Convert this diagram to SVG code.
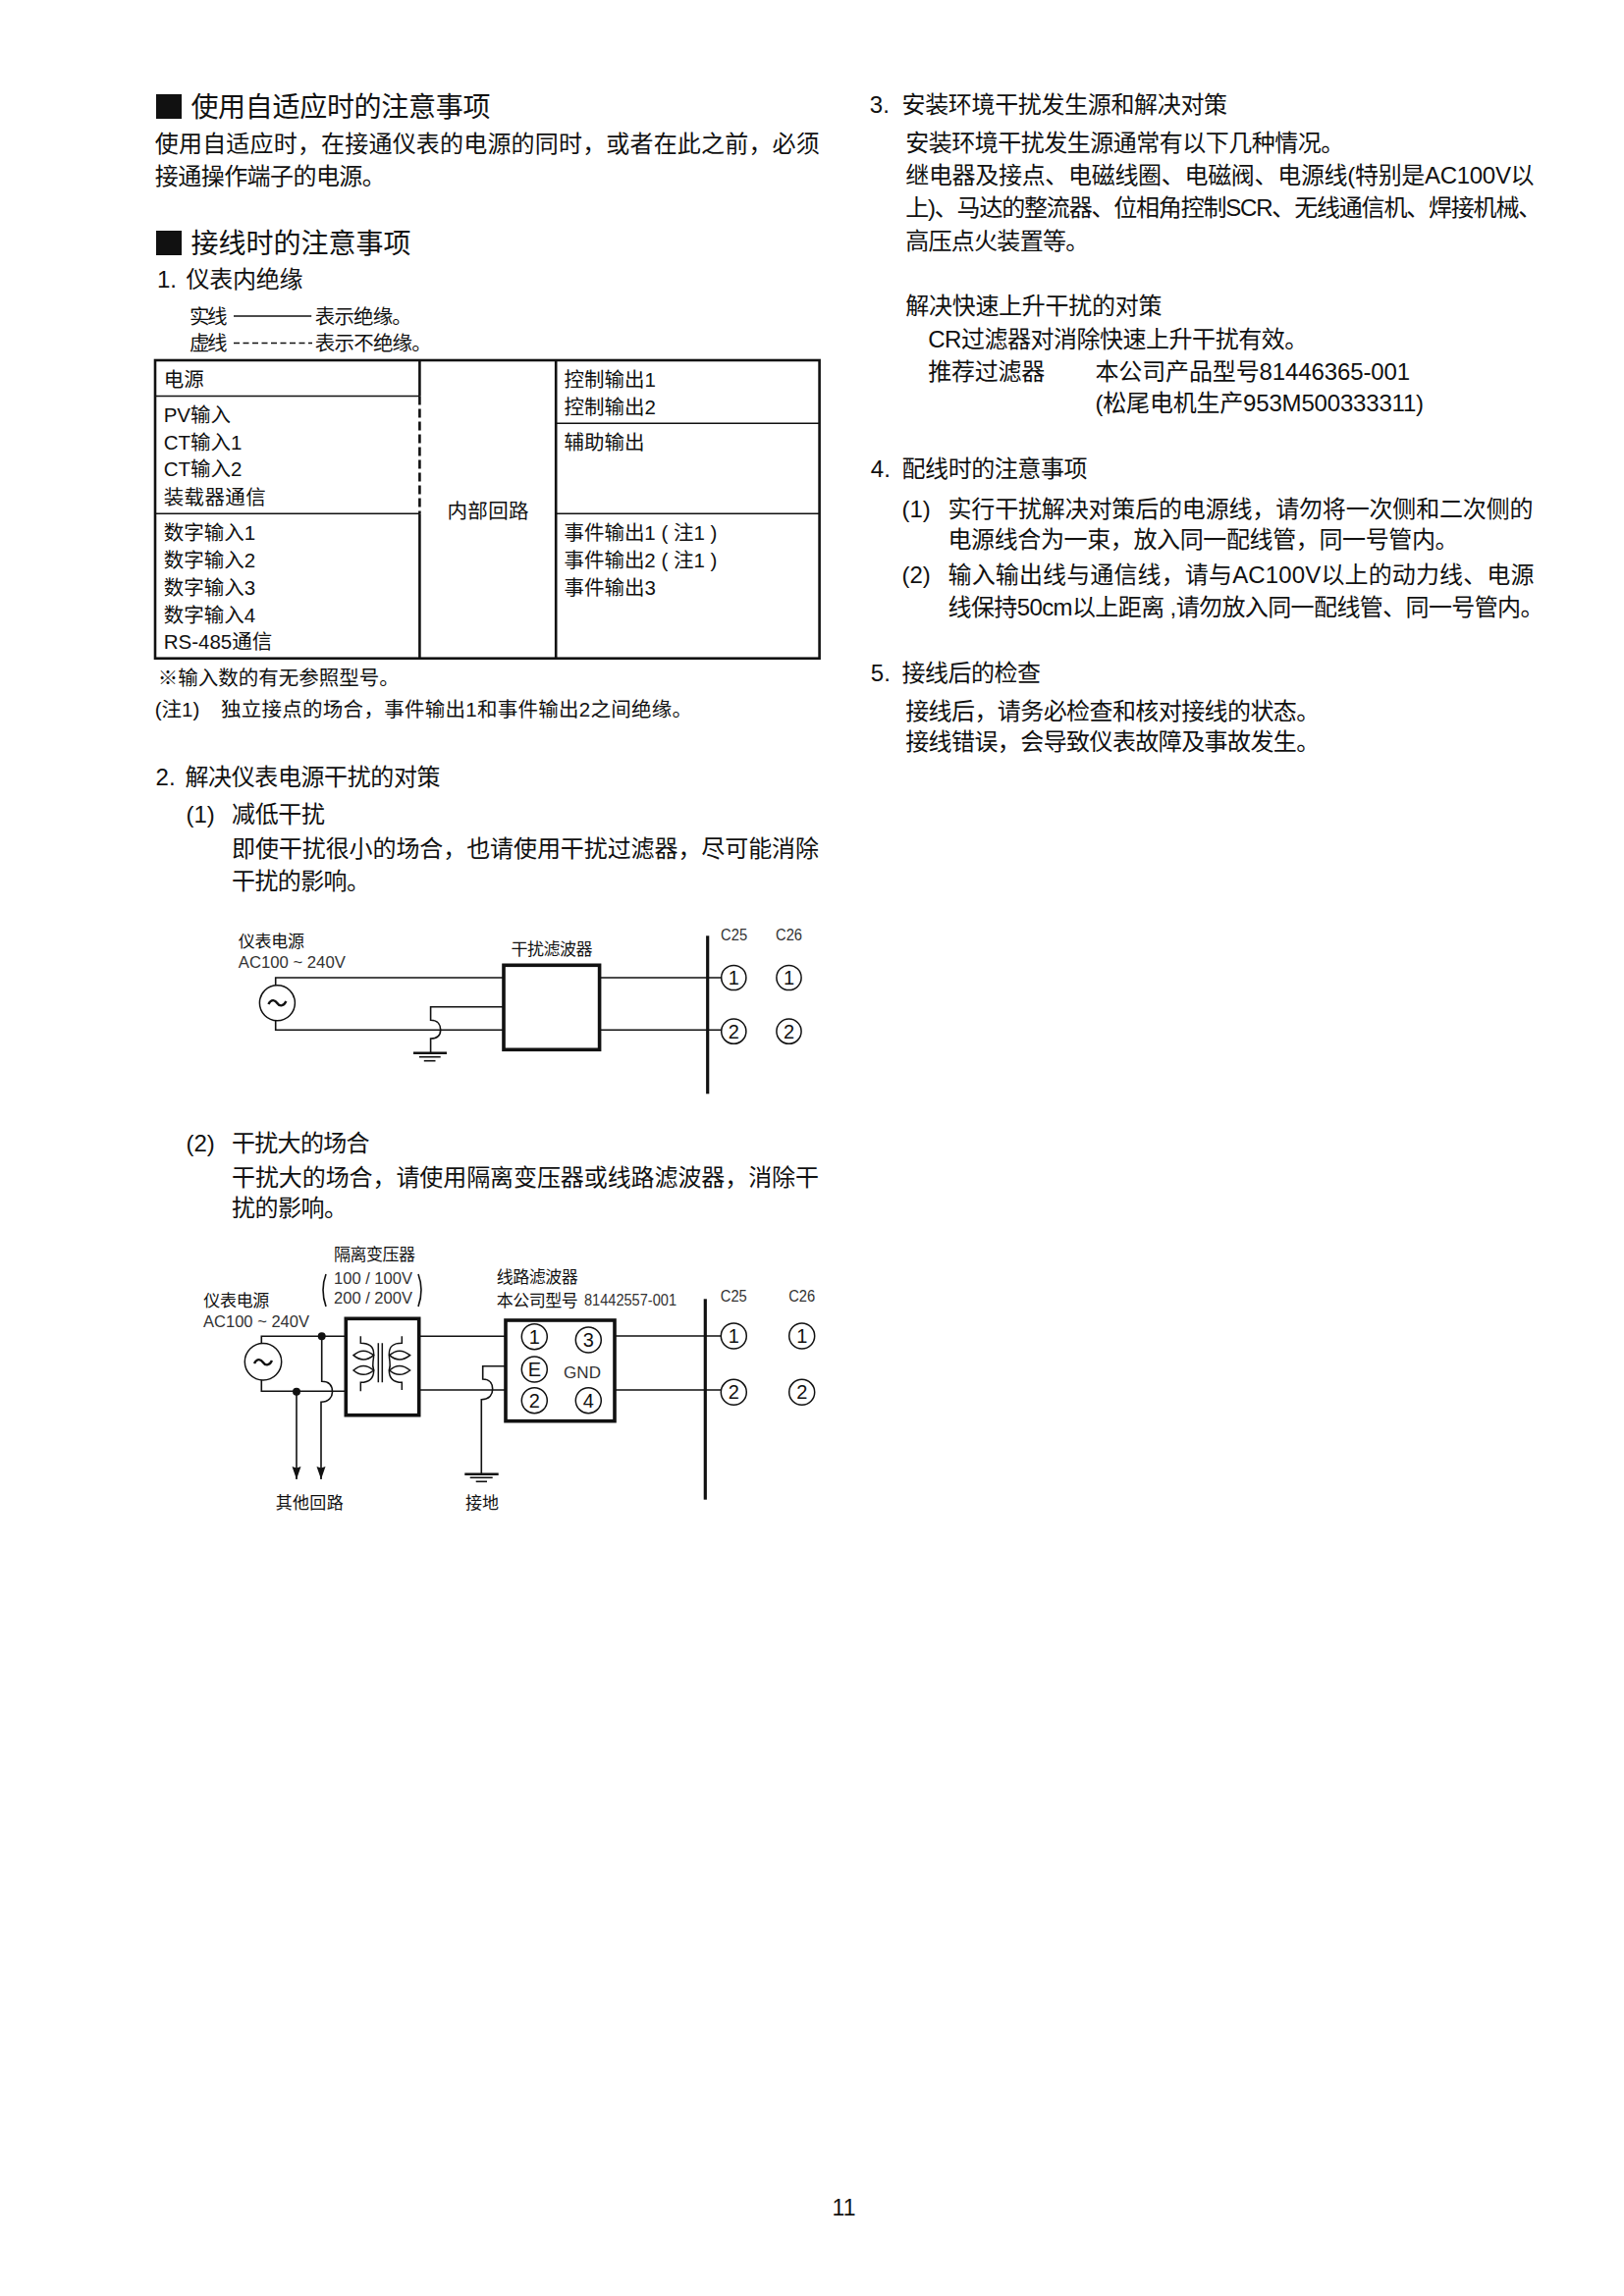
<svg xmlns="http://www.w3.org/2000/svg" width="1654" height="2339" viewBox="0 0 1654 2339">
<defs>
<style>
text{font-family:"Liberation Sans","Noto Sans CJK SC",sans-serif;fill:#111}
.h{font-size:28px}
.b{font-size:24px}
.t{font-size:20.5px}
.s{font-size:17px}
.g{font-size:17px;fill:#333}
.n{font-size:20px;text-anchor:middle}
.w{fill:none;stroke:#111;stroke-width:1.6}
.th{fill:none;stroke:#111;stroke-width:2.4}
.box{fill:#fff;stroke:#111;stroke-width:3.6}
.bus{fill:none;stroke:#111;stroke-width:3.2}
.tl{fill:none;stroke:#111;stroke-width:1.6}
.tb{fill:none;stroke:#111;stroke-width:2.6}
.c{fill:#fff;stroke:#111;stroke-width:1.5}
.d{fill:#111}
</style>
<marker id="arrow" markerUnits="userSpaceOnUse" markerWidth="14" markerHeight="10" refX="13" refY="4.5" orient="auto"><path d="M0,0 L13,4.5 L0,9 L1.5,4.5 Z" fill="#111"/></marker>
</defs>
<rect width="1654" height="2339" fill="#fff"/>

<g id="section-adaptive">
<rect x="159" y="96" width="26" height="25" fill="#111"/>
<text class="h" x="194.4" y="118.6" textLength="305">使用自适应时的注意事项</text>
<text class="b" x="157.8" y="155" textLength="677">使用自适应时，在接通仪表的电源的同时，或者在此之前，必须</text>
<text class="b" x="157.8" y="188" textLength="235">接通操作端子的电源。</text>
</g>

<g id="section-wiring">
<rect x="159" y="235" width="26" height="25" fill="#111"/>
<text class="h" x="194.4" y="257.5" textLength="224">接线时的注意事项</text>
<text class="b" x="160" y="293">1.</text>
<text class="b" x="189.5" y="293" textLength="119">仪表内绝缘</text>
</g>

<g id="legend">
<text class="t" x="193" y="329.5" textLength="38.6">实线</text>
<line class="w" x1="238" y1="322" x2="317.2" y2="322"/>
<text class="t" x="320.8" y="329.5" textLength="99">表示绝缘。</text>
<text class="t" x="193" y="357" textLength="38.6">虚线</text>
<line class="w" x1="238" y1="349.5" x2="318" y2="349.5" stroke-dasharray="6 3.5"/>
<text class="t" x="320.8" y="357" textLength="119">表示不绝缘。</text>
</g>

<g id="isolation-table">
<rect class="tb" x="158" y="367" width="676.6" height="303.7"/>
<line class="tb" x1="427.4" y1="367" x2="427.4" y2="403.5"/>
<line class="tb" x1="427.4" y1="403.5" x2="427.4" y2="523.3" stroke-dasharray="9 4"/>
<line class="tb" x1="427.4" y1="523.3" x2="427.4" y2="670.7"/>
<line class="tb" x1="566.2" y1="367" x2="566.2" y2="670.7"/>
<line class="tl" x1="158" y1="403.5" x2="427.4" y2="403.5"/>
<line class="tl" x1="158" y1="523.3" x2="427.4" y2="523.3"/>
<line class="tl" x1="566.2" y1="431.3" x2="834.6" y2="431.3"/>
<line class="tl" x1="566.2" y1="523.3" x2="834.6" y2="523.3"/>
<g id="cell-power"><text class="t" x="166.7" y="393.8">电源</text></g>
<g id="cell-inputs">
<text class="t" x="166.7" y="429.5">PV输入</text>
<text class="t" x="166.7" y="457.8">CT输入1</text>
<text class="t" x="166.7" y="485">CT输入2</text>
<text class="t" x="166.7" y="513.5" textLength="104">装载器通信</text>
</g>
<g id="cell-digital">
<text class="t" x="166.7" y="549.8">数字输入1</text>
<text class="t" x="166.7" y="577.8">数字输入2</text>
<text class="t" x="166.7" y="605.8">数字输入3</text>
<text class="t" x="166.7" y="633.8">数字输入4</text>
<text class="t" x="166.7" y="661">RS-485通信</text>
</g>
<g id="cell-internal"><text class="t" x="455.5" y="527.8" textLength="83">内部回路</text></g>
<g id="cell-control">
<text class="t" x="574.4" y="393.8">控制输出1</text>
<text class="t" x="574.4" y="421.8">控制输出2</text>
</g>
<g id="cell-aux"><text class="t" x="574.4" y="457.8">辅助输出</text></g>
<g id="cell-events">
<text class="t" x="574.4" y="549.8" textLength="156">事件输出1 ( 注1 )</text>
<text class="t" x="574.4" y="577.8" textLength="156">事件输出2 ( 注1 )</text>
<text class="t" x="574.4" y="605.8">事件输出3</text>
</g>
</g>

<g id="table-notes">
<text class="t" x="160.8" y="697.5" textLength="246">※输入数的有无参照型号。</text>
<text class="t" x="157.8" y="729.8">(注1)</text>
<text class="t" x="225" y="729.8" textLength="480">独立接点的场合，事件输出1和事件输出2之间绝缘。</text>
</g>

<g id="section-2">
<text class="b" x="158.6" y="799.5">2.</text>
<text class="b" x="188.5" y="799.5" textLength="260">解决仪表电源干扰的对策</text>
<text class="b" x="189.5" y="837.7">(1)</text>
<text class="b" x="236" y="837.7" textLength="95">减低干扰</text>
<text class="b" x="236" y="873.3" textLength="598">即使干扰很小的场合，也请使用干扰过滤器，尽可能消除</text>
<text class="b" x="236" y="905.7" textLength="141">干扰的影响。</text>
<text class="b" x="189.5" y="1172.7">(2)</text>
<text class="b" x="236" y="1172.7" textLength="140.5">干扰大的场合</text>
<text class="b" x="236" y="1207.5" textLength="598">干扰大的场合，请使用隔离变压器或线路滤波器，消除干</text>
<text class="b" x="236" y="1238.5" textLength="118">扰的影响。</text>
</g>

<g id="connectors">
<g id="wires-1">
<path class="w" d="M280.7 1004 V996 H514 M280.7 1039 V1049.3 H514"/>
<path class="w" d="M514 1025.7 H438.6 V1039.3 C446.7 1039.3 448.7 1045 448.7 1049 C448.7 1053 446.7 1058 438.6 1058 V1072.7"/>
<path class="th" d="M421 1072.7 H455"/>
<path class="w" d="M426.9 1076.7 H448.7"/>
<path class="w" d="M431.8 1080.7 H443.5"/>
<path class="w" d="M610 996 H735 M610 1049.3 H735"/>
<line class="bus" x1="720.7" y1="953.3" x2="720.7" y2="1114.3"/>
</g>
<g id="wires-2">
<path class="w" d="M266.3 1369 V1361.3 H367 M266.3 1406 V1417.3 H367"/>
<path class="w" d="M409 1361.3 H515 M409 1416 H515"/>
<path class="w" d="M327.7 1361.3 V1407.3 C337 1407.3 338.5 1414 338.5 1418 C338.5 1423 335 1428.3 327 1428.3 V1507" marker-end="url(#arrow)"/>
<path class="w" d="M302 1417.7 V1507" marker-end="url(#arrow)"/>
<path class="w" d="M515 1391.7 H491.7 V1405 C500 1405 501.7 1411 501.7 1415 C501.7 1420 499 1425.7 490.3 1425.7 V1501.7"/>
<path class="th" d="M473.3 1501.7 H507.7"/>
<path class="w" d="M478.7 1505.3 H501.7"/>
<path class="w" d="M484.7 1509.3 H496"/>
<path class="w" d="M626 1361 H734 M626 1416 H734"/>
<line class="bus" x1="718.3" y1="1323.3" x2="718.3" y2="1527.7"/>
<circle class="d" cx="327.7" cy="1361.3" r="4"/>
<circle class="d" cx="302" cy="1417.7" r="4"/>
</g>
</g>

<g id="d1-source">
<text class="s" x="242.8" y="964.5" textLength="67.3">仪表电源</text>
<text class="g" x="242.8" y="986" textLength="109" lengthAdjust="spacingAndGlyphs">AC100 ~ 240V</text>
<circle class="c" cx="282.4" cy="1021.7" r="18"/>
<path class="th" d="M273.4 1023 C276.4 1017 280.4 1019 282.4 1022 C284.4 1025 288.4 1026 291.4 1020"/>
</g>
<g id="d1-filter">
<text class="s" x="520.5" y="973.2" textLength="83">干扰滤波器</text>
<rect class="box" x="513" y="983.3" width="97.6" height="86"/>
</g>
<g id="d1-c25">
<text class="g" x="747.6" y="957.7" text-anchor="middle" textLength="27" lengthAdjust="spacingAndGlyphs">C25</text>
<circle class="c" cx="747.3" cy="996" r="12.6"/><text class="n" x="747.3" y="1003">1</text>
<circle class="c" cx="747.3" cy="1050.7" r="12.6"/><text class="n" x="747.3" y="1057.7">2</text>
</g>
<g id="d1-c26">
<text class="g" x="803.5" y="957.7" text-anchor="middle" textLength="27" lengthAdjust="spacingAndGlyphs">C26</text>
<circle class="c" cx="803.5" cy="996" r="12.6"/><text class="n" x="803.5" y="1003">1</text>
<circle class="c" cx="803.5" cy="1050.7" r="12.6"/><text class="n" x="803.5" y="1057.7">2</text>
</g>

<g id="d2-source">
<text class="s" x="207.3" y="1330.5" textLength="67">仪表电源</text>
<text class="g" x="207" y="1352" textLength="108" lengthAdjust="spacingAndGlyphs">AC100 ~ 240V</text>
<circle class="c" cx="268" cy="1387.3" r="18.7"/>
<path class="th" d="M259 1389 C262 1383 266 1385 268 1388 C270 1391 274 1392 277 1386"/>
</g>
<g id="d2-transformer">
<text class="s" x="340" y="1283.5" textLength="83">隔离变压器</text>
<text class="g" x="340" y="1308" textLength="80" lengthAdjust="spacingAndGlyphs">100 / 100V</text>
<text class="g" x="340" y="1327.7" textLength="80" lengthAdjust="spacingAndGlyphs">200 / 200V</text>
<path class="w" d="M332 1298 Q326 1314 332 1331 M426 1298 Q432 1314 426 1331"/>
<rect class="box" x="352.3" y="1343.3" width="74.4" height="98.4"/>
<g transform="translate(190 1260) scale(.3333)" fill="none" stroke="#111" stroke-width="4.5">
<path d="M532,304 V325 C560,325 572,335 572,358 C572,385 565,385 572,408 C572,432 560,445 532,445 V472"/>
<path d="M510,362 Q540,335 572,362 Q540,388 510,362 Z"/>
<path d="M510,408 Q540,381 572,408 Q540,434 510,408 Z"/>
<path d="M586,325 V445 M598,325 V445"/>
<path d="M658,304 V325 C630,325 619,335 619,358 C619,385 626,385 619,408 C619,432 630,445 658,445 V468"/>
<path d="M683,362 Q650,335 620,362 Q650,388 683,362 Z"/>
<path d="M683,408 Q650,381 620,408 Q650,434 683,408 Z"/>
</g>
</g>
<g id="d2-filter">
<text class="s" x="505.7" y="1307.2" textLength="83">线路滤波器</text>
<text class="s" x="505.7" y="1330.5" textLength="83">本公司型号</text>
<text class="g" x="595" y="1330" textLength="94" lengthAdjust="spacingAndGlyphs">81442557-001</text>
<rect class="box" x="515" y="1345" width="111" height="102.7"/>
<circle class="c" cx="544.3" cy="1361.7" r="13"/><text class="n" x="544.3" y="1368.7">1</text>
<circle class="c" cx="599.3" cy="1365" r="13"/><text class="n" x="599.3" y="1372">3</text>
<circle class="c" cx="544.3" cy="1395" r="13"/><text class="n" x="544.3" y="1402">E</text>
<circle class="c" cx="544.3" cy="1426.7" r="13"/><text class="n" x="544.3" y="1433.7">2</text>
<circle class="c" cx="599.3" cy="1426.7" r="13"/><text class="n" x="599.3" y="1433.7">4</text>
<text class="g" x="574" y="1404.3" textLength="38">GND</text>
</g>
<g id="d2-c25">
<text class="g" x="747.3" y="1325.5" text-anchor="middle" textLength="27" lengthAdjust="spacingAndGlyphs">C25</text>
<circle class="c" cx="747.3" cy="1361" r="13"/><text class="n" x="747.3" y="1368">1</text>
<circle class="c" cx="747.3" cy="1418.3" r="13"/><text class="n" x="747.3" y="1425.3">2</text>
</g>
<g id="d2-c26">
<text class="g" x="816.7" y="1325.5" text-anchor="middle" textLength="27" lengthAdjust="spacingAndGlyphs">C26</text>
<circle class="c" cx="816.7" cy="1361" r="13"/><text class="n" x="816.7" y="1368">1</text>
<circle class="c" cx="816.7" cy="1418.3" r="13"/><text class="n" x="816.7" y="1425.3">2</text>
</g>
<g id="d2-labels">
<text class="s" x="280.7" y="1536.5" textLength="69">其他回路</text>
<text class="s" x="474" y="1536.5" textLength="34">接地</text>
</g>

<g id="section-3">
<text class="b" x="885.8" y="114.8">3.</text>
<text class="b" x="918.5" y="114.8" textLength="331.6">安装环境干扰发生源和解决对策</text>
<text class="b" x="922.2" y="154.2" textLength="447">安装环境干扰发生源通常有以下几种情况。</text>
<text class="b" x="922.2" y="186.8" textLength="640.4">继电器及接点、电磁线圈、电磁阀、电源线(特别是AC100V以</text>
<text class="b" x="922.2" y="220.2" textLength="648">上)、马达的整流器、位相角控制SCR、无线通信机、焊接机械、</text>
<text class="b" x="922.2" y="254.2" textLength="187">高压点火装置等。</text>
<text class="b" x="922.2" y="319.8" textLength="261.3">解决快速上升干扰的对策</text>
<text class="b" x="945.2" y="354.2" textLength="387">CR过滤器对消除快速上升干扰有效。</text>
<text class="b" x="945.2" y="386.5" textLength="119">推荐过滤器</text>
<text class="b" x="1115.5" y="386.5" textLength="320.7">本公司产品型号81446365-001</text>
<text class="b" x="1115.5" y="418.7" textLength="334.6">(松尾电机生产953M500333311)</text>
</g>

<g id="section-4">
<text class="b" x="886.8" y="486">4.</text>
<text class="b" x="918.5" y="486" textLength="189">配线时的注意事项</text>
<text class="b" x="918.5" y="526.8">(1)</text>
<text class="b" x="965.5" y="526.8" textLength="596">实行干扰解决对策后的电源线，请勿将一次侧和二次侧的</text>
<text class="b" x="965.5" y="557.7" textLength="520">电源线合为一束，放入同一配线管，同一号管内。</text>
<text class="b" x="918.5" y="593.5">(2)</text>
<text class="b" x="965.5" y="593.5" textLength="597">输入输出线与通信线，请与AC100V以上的动力线、电源</text>
<text class="b" x="965.5" y="627.3" textLength="607">线保持50cm以上距离 ,请勿放入同一配线管、同一号管内。</text>
</g>

<g id="section-5">
<text class="b" x="886.8" y="694">5.</text>
<text class="b" x="918.5" y="694" textLength="141.5">接线后的检查</text>
<text class="b" x="922.2" y="732.5" textLength="422">接线后，请务必检查和核对接线的状态。</text>
<text class="b" x="922.2" y="764.2" textLength="422">接线错误，会导致仪表故障及事故发生。</text>
</g>

<g id="page-number"><text x="859.5" y="2257" font-size="23" text-anchor="middle">11</text></g>
</svg>
